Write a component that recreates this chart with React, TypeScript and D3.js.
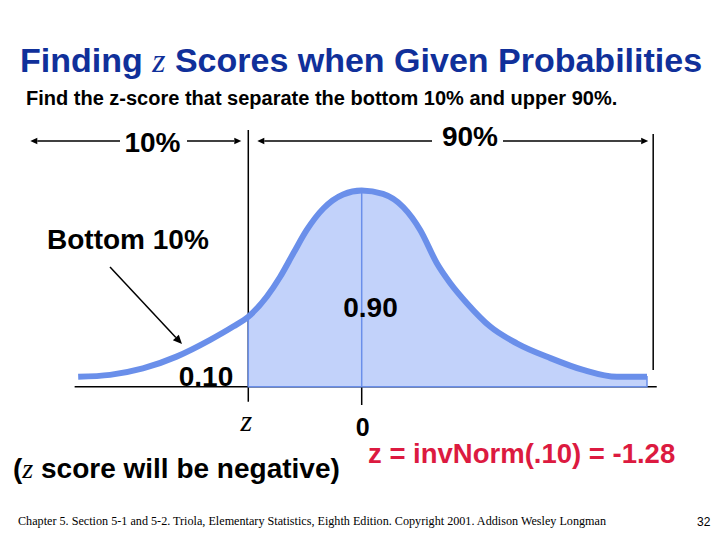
import React from "react";
import * as d3 from "d3";

// curve: z value and drawn density
const curveZ = [-3.2, -2.84, -2.47, -2.09, -1.71, -1.45, -1.28, -1.07, -0.92, -0.77, -0.62, -0.43, -0.21, 0, 0.24, 0.47, 0.66, 0.85, 1.0, 1.19, 1.45, 1.75, 2.13, 2.5, 2.88, 3.22];
const curveDensity = [0.02, 0.024, 0.037, 0.061, 0.095, 0.122, 0.142, 0.183, 0.223, 0.271, 0.318, 0.362, 0.39, 0.398, 0.391, 0.364, 0.318, 0.25, 0.21, 0.169, 0.122, 0.088, 0.058, 0.034, 0.02, 0.02];

const zCut = -1.28;
const zMean = 0;
const zLeftEdge = -3.24;
const zRightEdge = 3.33;
const zRightMark = 3.29;
const zArrowLeft = -3.74;

const lowerShare = "10%";
const upperShare = "90%";
const lowerProb = "0.10";
const upperProb = "0.90";

const W = 720;
const H = 540;
const BLUE = "#6a8fea";
const FILL = "#c2d2fa";
const SANS = "'Liberation Sans', Arial, sans-serif";
const SERIF = "'Liberation Serif', 'Times New Roman', serif";

const points = curveZ.map((z, i) => ({ z, d: curveDensity[i] }));

const Arrow = ({ x1, y1, x2, y2, size = 7 }) => {
  const a = Math.atan2(y2 - y1, x2 - x1);
  const w = size * 0.45;
  const bx = x2 - size * Math.cos(a);
  const by = y2 - size * Math.sin(a);
  const p = [
    [x2, y2],
    [bx + w * Math.sin(a), by - w * Math.cos(a)],
    [bx - w * Math.sin(a), by + w * Math.cos(a)],
  ];
  return (
    <g>
      <line x1={x1} y1={y1} x2={bx} y2={by} stroke="#000" strokeWidth={1.5} />
      <polygon points={p.map((q) => q.join(",")).join(" ")} fill="#000" />
    </g>
  );
};

export default function App() {
  const x = d3.scaleLinear().domain([-3, 3]).range([95.9, 627.5]);
  const y = d3.scaleLinear().domain([0, 0.4]).range([386.7, 189.5]);

  const line = d3
    .line<any>()
    .x((p) => x(p.z))
    .y((p) => y(p.d))
    .curve(d3.curveMonotoneX);

  const area = d3
    .area<any>()
    .x((p) => x(p.z))
    .y0(y(0))
    .y1((p) => y(p.d))
    .curve(d3.curveMonotoneX);

  const upper = points.filter((p) => p.z >= zCut);
  const peak = d3.max(curveDensity);
  const arrowY = 141;

  return (
    <svg
      width={W}
      height={H}
      style={{ position: "absolute", left: 0, top: 0, background: "#fff" }}
    >
      <rect width={W} height={H} fill="#fff" />

      <text x={20} y={72} fontFamily={SANS} fontWeight="bold" fontSize={34} fill="#10309a">
        Finding{" "}
        <tspan fontFamily={SERIF} fontStyle="italic" fontWeight="normal">z</tspan>
        {" "}Scores when Given Probabilities
      </text>
      <text x={26} y={105} fontFamily={SANS} fontWeight="bold" fontSize={20} fill="#000">
        Find the z-score that separate the bottom 10% and upper 90%.
      </text>

      {/* black guide lines */}
      <line x1={x(zLeftEdge)} x2={x(zRightEdge)} y1={y(0)} y2={y(0)} stroke="#000" strokeWidth={1.5} />
      <line x1={x(zCut)} x2={x(zCut)} y1={130} y2={401.7} stroke="#000" strokeWidth={1.5} />
      <line x1={x(zMean)} x2={x(zMean)} y1={y(0)} y2={405} stroke="#000" strokeWidth={1.5} />
      <line x1={x(zRightMark)} x2={x(zRightMark)} y1={134} y2={370} stroke="#000" strokeWidth={1.5} />

      {/* shaded upper area */}
      <path d={area(upper)} fill={FILL} stroke={BLUE} strokeWidth={1.5} />
      <line x1={x(zMean)} x2={x(zMean)} y1={y(peak)} y2={y(0)} stroke={BLUE} strokeWidth={1.5} />
      <path d={line(points)} fill="none" stroke={BLUE} strokeWidth={6} />

      {/* top arrows */}
      <Arrow x1={120} y1={arrowY} x2={x(zArrowLeft)} y2={arrowY} />
      <Arrow x1={187} y1={arrowY} x2={x(zCut) - 7} y2={arrowY} />
      <Arrow x1={432} y1={arrowY} x2={x(zCut) + 9} y2={arrowY} />
      <Arrow x1={503} y1={arrowY} x2={x(zRightMark) - 5} y2={arrowY} />
      <text x={152.5} y={151.7} textAnchor="middle" fontFamily={SANS} fontWeight="bold" fontSize={28}>
        {lowerShare}
      </text>
      <text x={470} y={146} textAnchor="middle" fontFamily={SANS} fontWeight="bold" fontSize={28}>
        {upperShare}
      </text>

      <text x={47} y={249} fontFamily={SANS} fontWeight="bold" fontSize={28}>
        Bottom {lowerShare}
      </text>
      <Arrow x1={110} y1={267} x2={182} y2={344} size={9} />

      <text x={370.5} y={316.7} textAnchor="middle" fontFamily={SANS} fontWeight="bold" fontSize={28}>
        {upperProb}
      </text>
      <text x={206} y={386} textAnchor="middle" fontFamily={SANS} fontWeight="bold" fontSize={28}>
        {lowerProb}
      </text>

      <text x={x(zCut) - 2} y={431} textAnchor="middle" fontFamily={SERIF} fontStyle="italic" fontSize={30}>
        z
      </text>
      <text x={x(zMean) + 1} y={435.7} textAnchor="middle" fontFamily={SANS} fontWeight="bold" fontSize={25}>
        0
      </text>

      <text x={13} y={478} fontFamily={SANS} fontWeight="bold" fontSize={28}>
        (<tspan fontFamily={SERIF} fontStyle="italic" fontWeight="normal">z</tspan> score will be negative)
      </text>
      <text x={368} y={463} fontFamily={SANS} fontWeight="bold" fontSize={27.5} fill="#dc1a40">
        z = invNorm(.10) = -1.28
      </text>

      <text x={18} y={525} fontFamily={SERIF} fontSize={12} textLength={588} lengthAdjust="spacingAndGlyphs">
        Chapter 5. Section 5-1 and 5-2. Triola, Elementary Statistics, Eighth Edition. Copyright  2001.  Addison Wesley Longman
      </text>
      <text x={697} y={526} fontFamily={SANS} fontSize={12}>
        32
      </text>
    </svg>
  );
}
